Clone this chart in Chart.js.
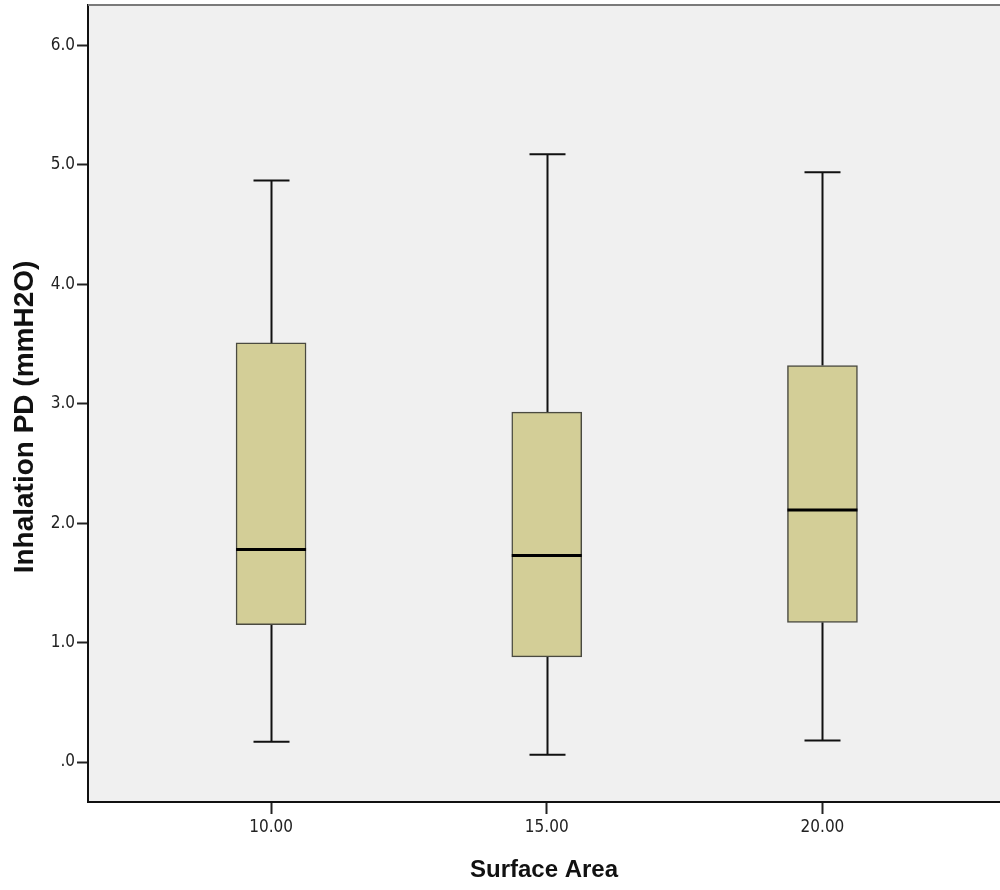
<!DOCTYPE html>
<html>
<head>
<meta charset="utf-8">
<script src="https://cdn.jsdelivr.net/npm/chart.js@4.4.1/dist/chart.umd.min.js"></script>
<style>
  html, body { margin: 0; padding: 0; background: #fff; }
  #wrap { width: 1000px; height: 890px; }
</style>
</head>
<body>
<div id="wrap"><canvas id="chart" width="1000" height="890"></canvas></div>
<script>
// --- dados do boxplot ---
const surfaceAreas = [10, 15, 20];
const whiskerMax = [4.87, 5.09, 4.94];
const q3Values   = [3.51, 2.93, 3.32];
const medians    = [1.78, 1.73, 2.11];
const q1Values   = [1.15, 0.88, 1.17];
const whiskerMin = [0.17, 0.06, 0.18];
const yTickValues = [0, 1, 2, 3, 4, 5, 6];
const xTickValues = [10, 15, 20];

const FONT = "'Liberation Sans', Arial, sans-serif";
const TICK_FONT = "'Liberation Sans Narrow', 'Arial Narrow', 'DejaVu Sans Condensed', sans-serif";

// fundo cinza da área do gráfico + borda superior + título do eixo Y
const plotBackground = {
    id: 'plotBackground',
    beforeDraw(chart) {
        const { ctx, chartArea: a } = chart;
        ctx.save();
        ctx.fillStyle = '#f0f0f0';
        ctx.fillRect(a.left, a.top, a.right - a.left, a.bottom - a.top);
        ctx.restore();
    },
    afterDraw(chart) {
        const { ctx, chartArea: a } = chart;
        ctx.save();
        ctx.strokeStyle = '#7a7a7a';
        ctx.lineWidth = 2;
        ctx.beginPath();
        ctx.moveTo(a.left, a.top);
        ctx.lineTo(a.right, a.top);
        ctx.stroke();
        // título do eixo Y
        ctx.translate(25, 417);
        ctx.rotate(-Math.PI / 2);
        ctx.fillStyle = '#111';
        ctx.font = "bold 28px " + FONT;
        ctx.textAlign = 'center';
        ctx.textBaseline = 'middle';
        ctx.fillText('Inhalation PD (mmH2O)', 0, 0);
        ctx.restore();
    }
};

// bigodes e medianas desenhados com as escalas do Chart.js
const boxExtras = {
    id: 'boxExtras',
    beforeDatasetsDraw(chart) {
        const { ctx, scales: { x, y } } = chart;
        ctx.save();
        ctx.strokeStyle = '#111';
        ctx.lineWidth = 2;
        const capHalf = 18;
        surfaceAreas.forEach((sa, i) => {
            const px = Math.round(x.getPixelForValue(sa)) + 0.5;
            ctx.beginPath();
            ctx.moveTo(px, y.getPixelForValue(whiskerMax[i]));
            ctx.lineTo(px, y.getPixelForValue(q3Values[i]));
            ctx.moveTo(px, y.getPixelForValue(q1Values[i]));
            ctx.lineTo(px, y.getPixelForValue(whiskerMin[i]));
            ctx.moveTo(px - capHalf, y.getPixelForValue(whiskerMax[i]));
            ctx.lineTo(px + capHalf, y.getPixelForValue(whiskerMax[i]));
            ctx.moveTo(px - capHalf, y.getPixelForValue(whiskerMin[i]));
            ctx.lineTo(px + capHalf, y.getPixelForValue(whiskerMin[i]));
            ctx.stroke();
        });
        ctx.restore();
    },
    afterDatasetsDraw(chart) {
        const { ctx, scales: { y } } = chart;
        const bars = chart.getDatasetMeta(0).data;
        ctx.save();
        ctx.strokeStyle = '#000';
        ctx.lineWidth = 3;
        surfaceAreas.forEach((sa, i) => {
            const bar = bars[i];
            const half = bar.width / 2;
            const py = y.getPixelForValue(medians[i]);
            ctx.beginPath();
            ctx.moveTo(bar.x - half, py);
            ctx.lineTo(bar.x + half, py);
            ctx.stroke();
        });
        ctx.restore();
    }
};

const ctx = document.getElementById('chart').getContext('2d');
new Chart(ctx, {
    type: 'bar',
    data: {
        datasets: [{
            label: 'Inhalation PD',
            data: surfaceAreas.map((sa, i) => ({ x: sa, y: [q1Values[i], q3Values[i]] })),
            backgroundColor: '#d3ce97',
            borderColor: '#4a4a40',
            borderWidth: 1.5,
            borderSkipped: false,
            barThickness: 70
        }]
    },
    options: {
        responsive: false,
        animation: false,
        layout: { padding: { top: 5, left: 0, right: 0, bottom: 0 } },
        plugins: {
            legend: { display: false },
            tooltip: { enabled: false }
        },
        scales: {
            x: {
                type: 'linear',
                offset: false,
                min: 6.68,
                max: 23.22,
                afterBuildTicks: (scale) => { scale.ticks = xTickValues.map(v => ({ value: v })); },
                afterFit: (scale) => { scale.height = 88; scale.paddingLeft = 0; scale.paddingRight = 0; },
                ticks: {
                    callback: (v) => Number(v).toFixed(2),
                    color: '#222',
                    font: { family: TICK_FONT, size: 17 },
                    padding: 3,
                    maxRotation: 0
                },
                grid: {
                    offset: false,
                    drawOnChartArea: false,
                    drawTicks: true,
                    tickLength: 12,
                    tickWidth: 2,
                    tickColor: '#222'
                },
                border: { color: '#111', width: 2 },
                title: {
                    display: true,
                    text: 'Surface Area',
                    color: '#111',
                    font: { family: FONT, size: 24, weight: 'bold' },
                    padding: { top: 0, bottom: 5 }
                }
            },
            y: {
                min: -0.335,
                max: 6.34,
                afterBuildTicks: (scale) => { scale.ticks = yTickValues.map(v => ({ value: v })); },
                afterFit: (scale) => { scale.width = 88; scale.paddingTop = 0; scale.paddingBottom = 0; },
                ticks: {
                    callback: (v) => v === 0 ? '.0' : Number(v).toFixed(1),
                    color: '#222',
                    font: { family: TICK_FONT, size: 17 },
                    padding: 2
                },
                grid: {
                    drawOnChartArea: false,
                    drawTicks: true,
                    tickLength: 11,
                    tickWidth: 2,
                    tickColor: '#222'
                },
                border: { color: '#111', width: 2 },
                title: { display: false }
            }
        }
    },
    plugins: [plotBackground, boxExtras]
});
</script>
</body>
</html>
